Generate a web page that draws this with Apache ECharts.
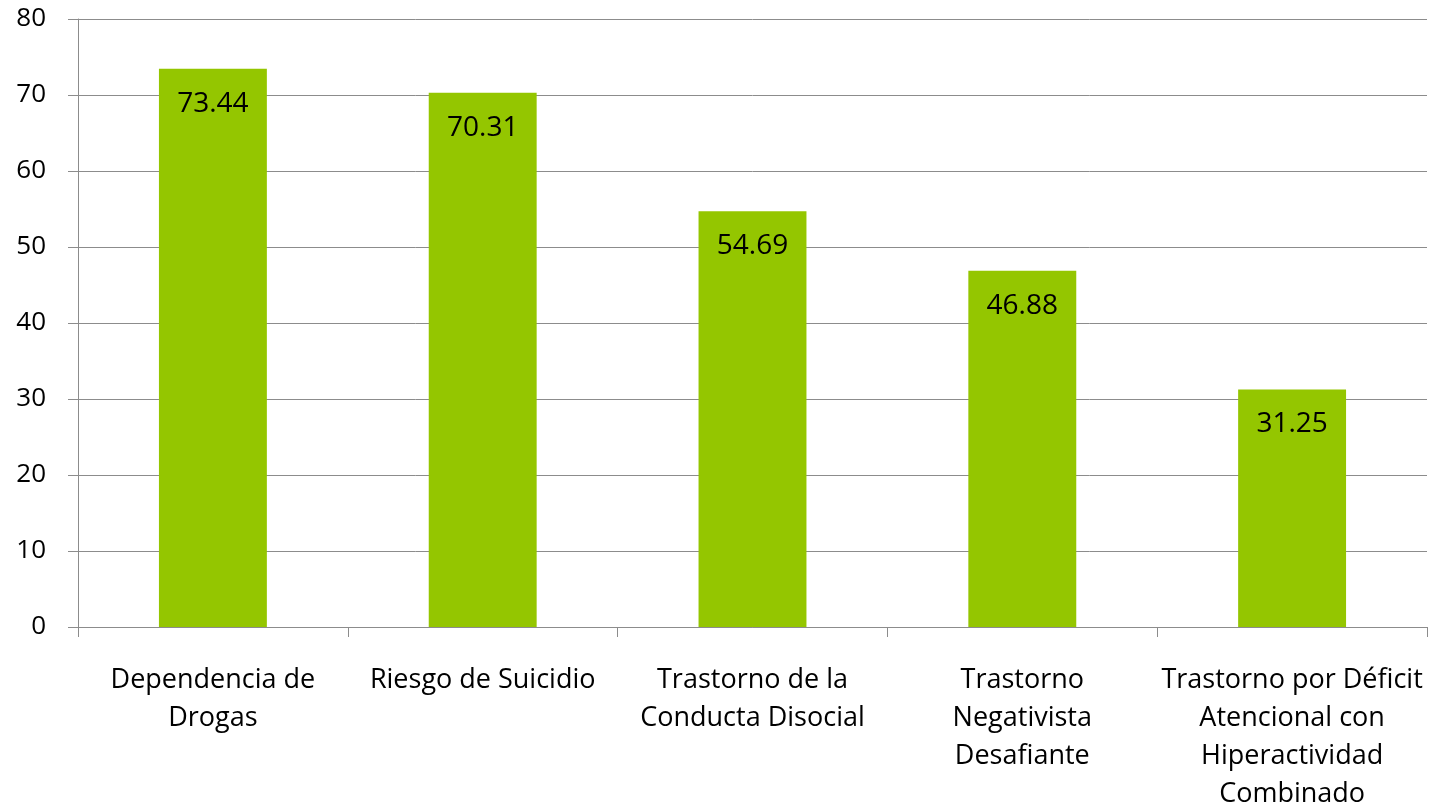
<!DOCTYPE html>
<html><head><meta charset="utf-8">
<script src="https://cdn.jsdelivr.net/npm/echarts@6/dist/echarts.min.js"></script>
<style>html,body{margin:0;padding:0;background:#fff}#c{width:1431px;height:807px}</style>
</head><body><div id="c"></div>
<script>
const categories = ['Dependencia de\nDrogas', 'Riesgo de Suicidio', 'Trastorno de la\nConducta Disocial', 'Trastorno\nNegativista\nDesafiante', 'Trastorno por Déficit\nAtencional con\nHiperactividad\nCombinado'];
const values = [73.44, 70.31, 54.69, 46.88, 31.25];
const yTicks = [0, 10, 20, 30, 40, 50, 60, 70, 80];

const chart = echarts.init(document.getElementById('c'), null, {renderer: 'canvas'});
const font = 'Open Sans, Lato, sans-serif';
chart.setOption({
  animation: false,
  grid: {left: 78, right: 4, top: 19, bottom: 180, containLabel: false, outerBoundsMode: 'none'},
  xAxis: {
    type: 'category', data: categories,
    axisLine: {lineStyle: {color: '#8c8c8c', width: 1}},
    axisTick: {show: true, length: 10, alignWithLabel: false, lineStyle: {color: '#8c8c8c'}},
    axisLabel: {color: '#000', fontFamily: font, fontSize: 27, lineHeight: 38, margin: 34, interval: 0}
  },
  yAxis: {
    type: 'value', min: yTicks[0], max: yTicks[yTicks.length - 1], interval: 10,
    axisLine: {show: true, lineStyle: {color: '#8c8c8c'}},
    axisTick: {show: true, length: 10, lineStyle: {color: '#8c8c8c'}},
    splitLine: {lineStyle: {color: '#8c8c8c', width: 1}},
    axisLabel: {color: '#000', fontFamily: font, fontSize: 26, margin: 32}
  },
  series: [{
    type: 'bar', data: values, barWidth: '40%',
    itemStyle: {color: '#94C600'},
    label: {show: true, position: 'insideTop', distance: 21, color: '#000', fontFamily: font, fontSize: 28,
      formatter: p => p.value.toFixed(2)}
  }]
});
</script></body></html>
